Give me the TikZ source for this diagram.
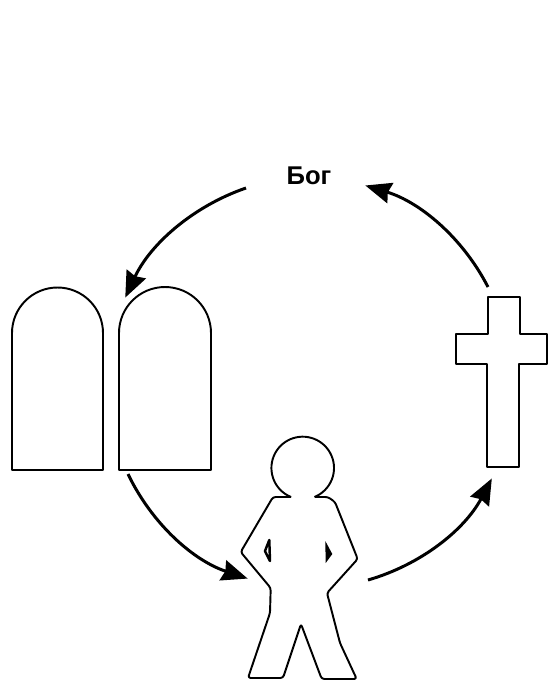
\documentclass[tikz,border=0pt]{standalone}
\usepackage{fontspec}
\setmainfont{Liberation Sans}
\usetikzlibrary{arrows.meta}
\tikzset{
    outline/.style={line width=1.1pt, line join=round},
    cycle arrow/.style={line width=1.7pt, -{Stealth[length=0.52cm, width=0.42cm, inset=0.05cm]}, looseness=0.9, shorten >=-1pt},
}

\begin{document}
\begin{tikzpicture}[x=0.02cm, y=-0.02cm]
                \useasboundingbox (0,0) rectangle (548,681);
                \node[font=\bfseries\fontsize{14.6pt}{16pt}\selectfont] (god) at (309,176) {Бог};
                % tablets
                \draw[outline] (12,470) -- (12,333) arc[start angle=180, end angle=360, radius=45.5] -- (103,470) -- cycle;
                \draw[outline] (119,470) -- (119,333) arc[start angle=180, end angle=360, radius=46] -- (211,470) -- cycle;
                % cross
                \draw[outline] (488,297) -- (520,297) -- (520,334) -- (547,334) -- (547,364) -- (519,364) -- (519,467) -- (487,467) -- (487,364) -- (456,364) -- (456,334) -- (488,334) -- cycle;
                % man
                \draw[outline, rounded corners=1.5pt] (291,497) -- (273,497) -- (240.7,552) -- (270.7,588) -- (270,613) -- (248,678) -- (283,678) -- (301,624) -- (321.7,679) -- (356.7,679) -- (340,643) -- (327,593) -- (357.7,559) -- (335,502) -- (328,497) -- (315,497);
                \draw[outline] (291,497) arc[start angle=112, end angle=428, radius=31.3];
                \draw[outline, line width=1.4pt] (269.3,540) -- (265,551) -- (270,561) -- cycle;
                \fill (325.3,541) -- (332.3,554) -- (325.7,563) -- cycle;
                % arrows
                \coordinate (godL) at (246,188);
                \coordinate (tabT) at (126,296);
                \coordinate (tabB) at (128,474);
                \coordinate (manL) at (246,578);
                \coordinate (manR) at (368,580);
                \coordinate (crossB) at (491,480);
                \coordinate (crossT) at (488,287);
                \coordinate (godR) at (367,186);
                \draw[cycle arrow] (godL) to[bend right=23] (tabT);
                \draw[cycle arrow] (tabB) to[bend right=23] (manL);
                \draw[cycle arrow] (manR) to[bend right=23] (crossB);
                \draw[cycle arrow] (crossT) to[bend right=23] (godR);
            \end{tikzpicture}
\end{document}
